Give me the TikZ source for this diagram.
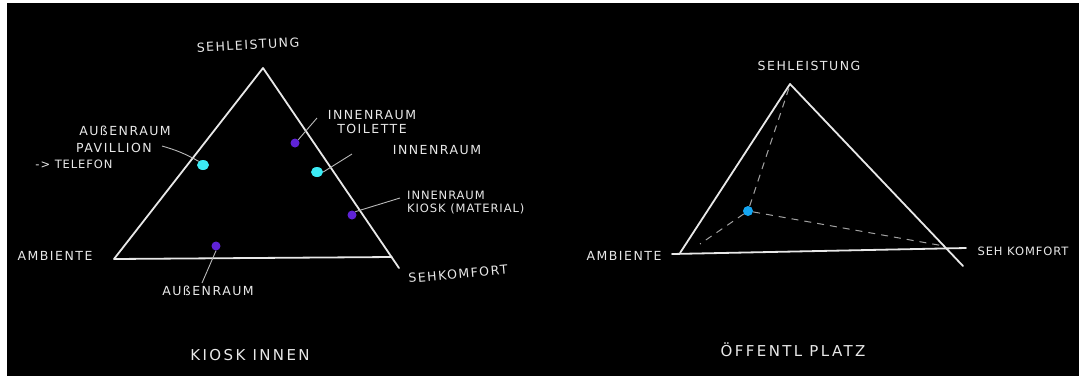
\documentclass[tikz,border=0pt]{standalone}
\usepackage{fontspec}
\setmainfont{DejaVu Sans}
\usetikzlibrary{shapes.geometric}
\definecolor{chalk}{RGB}{232,232,232}
\definecolor{cyandot}{RGB}{60,235,245}
\definecolor{bluedot}{RGB}{20,165,240}
\definecolor{violetdot}{RGB}{95,35,215}
\tikzset{
  edge/.style={draw=chalk, line width=1.8pt, line cap=round, line join=round},
  leader/.style={draw=chalk!80!black, line width=0.9pt},
  hint/.style={draw=chalk!70!black, line width=1pt, dash pattern=on 7pt off 6pt},
  lbl/.style={text=chalk, inner sep=0pt, font=\fontsize{12.5}{14}\selectfont\addfontfeature{LetterSpace=12}},
  smlbl/.style={text=chalk, inner sep=0pt, font=\fontsize{11.5}{13}\selectfont\addfontfeature{LetterSpace=8}},
  biglbl/.style={text=chalk, inner sep=0pt, font=\fontsize{15}{17}\selectfont\addfontfeature{LetterSpace=16}},
  cdot/.style={ellipse, fill=cyandot, minimum width=12pt, minimum height=10pt, inner sep=0pt},
  bdot/.style={circle, fill=bluedot, minimum size=10pt, inner sep=0pt},
  vdot/.style={circle, fill=violetdot, minimum size=9pt, inner sep=0pt}
}
\begin{document}
\begin{tikzpicture}[x=1pt, y=-1pt]
\useasboundingbox (0,0) rectangle (1079,376);
\fill[white] (0,0) rectangle (1079,376);
\fill[black] (7,3) rectangle (1079,376);

% ---------- left diagram ----------
\coordinate (LA) at (263,68);
\coordinate (LL) at (114,259);
\coordinate (LR) at (392,257);
\coordinate (LRx) at (399,268);
\draw[edge] (LRx) -- (LA) -- (LL) -- (LR);

\node[lbl, rotate=3] (lsl) at (248,45) {SEHLEISTUNG};
\node[lbl] (lamb) at (55,256) {AMBIENTE};
\node[lbl, rotate=5] (lsk) at (458,274) {SEHKOMFORT};

\node[cdot] (d1) at (203,165) {};
\node[vdot] (d2) at (295,143) {};
\node[cdot] (d3) at (317,172) {};
\node[vdot] (d4) at (352,215) {};
\node[vdot] (d5) at (216,246) {};

\node[lbl] (t1a) at (125,131) {AUßENRAUM};
\node[lbl] (t1b) at (114,148) {PAVILLION};
\node[smlbl] (t1c) at (74,164) {-> TELEFON};
\node[lbl, align=center] (t2) at (372,122) {INNENRAUM\\TOILETTE};
\node[lbl] (t3) at (437,150) {INNENRAUM};
\node[smlbl, align=left, anchor=west] (t4) at (407,203) {INNENRAUM\\KIOSK (MATERIAL)};
\node[lbl] (t5) at (208,291) {AUßENRAUM};
\node[biglbl] (tk) at (250,355) {KIOSK INNEN};

\coordinate (e1) at (162,146);
\coordinate (e2) at (317,118);
\coordinate (e3) at (352,154);
\coordinate (e4) at (400,198);
\coordinate (e5) at (202,283);
\draw[leader] (e1) .. controls (176,150) and (186,154) .. (d1.north west);
\draw[leader] (d2.north east) -- (e2);
\draw[leader] (d3.east) -- (e3);
\draw[leader] (d4.north east) -- (e4);
\draw[leader] (d5.south) -- (e5);

% ---------- right diagram ----------
\coordinate (RA) at (790,84);
\coordinate (RL) at (680,253);
\coordinate (RL0) at (672,254);
\coordinate (RB) at (966,248);
\coordinate (RRx) at (963,266);
\draw[edge] (RRx) -- (RA) -- (RL);
\draw[edge] (RL0) -- (RB);

\node[bdot] (rd) at (748,211) {};
\coordinate (h1) at (789,88);
\coordinate (h2) at (700,244);
\coordinate (h3) at (944,246);
\draw[hint] (rd) -- (h1);
\draw[hint] (rd) -- (h2);
\draw[hint] (rd) -- (h3);

\node[lbl] (rsl) at (809,66) {SEHLEISTUNG};
\node[lbl] (ramb) at (624,256) {AMBIENTE};
\node[smlbl] (rsk) at (1023,251) {SEH KOMFORT};
\node[biglbl] (rtitle) at (793,350) {ÖFFENTL PLATZ};
\end{tikzpicture}
\end{document}
